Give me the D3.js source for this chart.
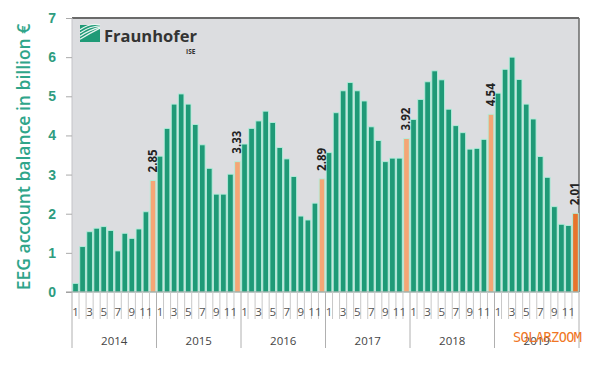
<!DOCTYPE html>
<html>
<head>
<meta charset="utf-8">
<script src="https://cdn.jsdelivr.net/npm/d3@7"></script>
<style>
body{margin:0;background:#fff;}
svg{display:block;font-family:"Open Sans","Noto Sans",sans-serif;}
</style>
</head>
<body>
<script>
var width=600,height=368;
var years=["2014","2015","2016","2017","2018","2019"];
var months=[1,2,3,4,5,6,7,8,9,10,11,12];
var yTicks=[0,1,2,3,4,5,6,7];
// monthly EEG account balance, billion EUR
var v2014=[0.22,1.16,1.54,1.63,1.67,1.57,1.05,1.50,1.37,1.61,2.05,2.85];
var v2015=[3.47,4.18,4.80,5.06,4.80,4.28,3.76,3.16,2.50,2.50,3.01,3.33];
var v2016=[3.78,4.18,4.37,4.62,4.33,3.69,3.40,2.95,1.94,1.84,2.27,2.89];
var v2017=[3.56,4.58,5.14,5.35,5.14,4.88,4.22,3.87,3.33,3.42,3.42,3.92];
var v2018=[4.41,4.92,5.37,5.65,5.42,4.67,4.25,4.07,3.65,3.67,3.90,4.54];
var v2019=[5.08,5.69,6.00,5.43,4.80,4.42,3.46,2.93,2.18,1.73,1.70,2.01];
var decLabels=["2.85","3.33","2.89","3.92","4.54","2.01"];

var allVals=[v2014,v2015,v2016,v2017,v2018,v2019];
var data=[];
years.forEach(function(y,i){
  months.forEach(function(m,j){
    data.push({key:y+"-"+m,year:y,month:m,value:allVals[i][j],last:(i==5&&j==11)});
  });
});

var pL=72,pR=579,pT=18,pB=292;
var svg=d3.select("body").append("svg").attr("width",width).attr("height",height);

var xScale=d3.scaleBand().domain(data.map(function(d){return d.key;})).range([pL,pR]).padding(0);
var yScale=d3.scaleLinear().domain([0,7]).range([pB,pT]);
var bw=xScale.bandwidth();

// plot background + frame
svg.append("rect").attr("x",pL).attr("y",pT).attr("width",pR-pL).attr("height",pB-pT).attr("fill","#dcdde0");
svg.append("line").attr("x1",pL).attr("x2",pR).attr("y1",pT).attr("y2",pT).attr("stroke","#6a6a6a").attr("stroke-width",2);
svg.append("line").attr("x1",pR).attr("x2",pR).attr("y1",pT).attr("y2",pB).attr("stroke","#6a6a6a").attr("stroke-width",1.5);
svg.append("line").attr("x1",pL).attr("x2",pL).attr("y1",pT).attr("y2",pB).attr("stroke","#c4c4c8").attr("stroke-width",1);

// y axis
var yAxis=d3.axisLeft(yScale).tickValues(yTicks).tickSize(6).tickPadding(10).tickFormat(d3.format("d"));
var gy=svg.append("g").attr("transform","translate("+pL+",0)").call(yAxis);
gy.select(".domain").remove();
gy.selectAll(".tick line").attr("stroke","#aaa");
gy.selectAll(".tick text").attr("fill","#2e9c80").attr("font-size",14).attr("font-weight","bold");

svg.append("text")
   .attr("transform","translate(30,"+((pT+pB)/2+2)+") rotate(-90)")
   .attr("text-anchor","middle")
   .attr("fill","#2fa58a")
   .attr("font-size",17.5)
   .attr("font-weight",600)
   .text("EEG account balance in billion €");

// bars
svg.append("g").selectAll("rect").data(data).enter().append("rect")
   .attr("x",function(d){return xScale(d.key)+0.7;})
   .attr("width",bw-1.4)
   .attr("y",function(d){return yScale(d.value);})
   .attr("height",function(d){return pB-yScale(d.value);})
   .attr("fill",function(d){
       if(d.last)return "#e8742c";
       if(d.month==12)return "#f4a676";
       return "#1f9a77";
   })
   .attr("stroke","#b2eedb")
   .attr("stroke-width",0.9);

// december labels
svg.append("g").selectAll("text").data(data.filter(function(d){return d.month==12;})).enter().append("text")
   .attr("transform",function(d){
       return "translate("+(xScale(d.key)+bw/2+4)+","+(yScale(d.value)-8)+") rotate(-90)";
   })
   .attr("font-size",11.5)
   .attr("font-weight","bold")
   .attr("fill","#222")
   .text(function(d,i){return decLabels[i];});

// x axis line
svg.append("line").attr("x1",pL-6).attr("x2",pR).attr("y1",pB).attr("y2",pB).attr("stroke","#999");

// month separators and labels
var gx=svg.append("g");
gx.selectAll("line.m").data(data).enter().append("line")
   .attr("class","m")
   .attr("x1",function(d){return xScale(d.key);})
   .attr("x2",function(d){return xScale(d.key);})
   .attr("y1",pB)
   .attr("y2",function(d){return d.month==1?348:319;})
   .attr("stroke",function(d){return d.month==1?"#b0b0b0":"#c8c8c8";})
   .attr("stroke-width",1);
gx.append("line").attr("x1",pR).attr("x2",pR).attr("y1",pB).attr("y2",348).attr("stroke","#b0b0b0");
gx.selectAll("text.m").data(data.filter(function(d){return d.month%2==1;})).enter().append("text")
   .attr("class","m")
   .attr("x",function(d){return xScale(d.key)+bw/2;})
   .attr("y",316)
   .attr("text-anchor","middle")
   .attr("font-size",11.5)
   .attr("fill","#555")
   .text(function(d){return d.month;});

// year labels
gx.selectAll("text.y").data(years).enter().append("text")
   .attr("class","y")
   .attr("x",function(y){return (xScale(y+"-1")+xScale(y+"-12")+bw)/2;})
   .attr("y",345)
   .attr("text-anchor","middle")
   .attr("font-size",11.5)
   .attr("fill","#444")
   .text(function(y){return y;});

// Fraunhofer logo
var logo=svg.append("g").attr("transform","translate(80,25)");
logo.append("rect").attr("width",20).attr("height",17).attr("fill","#1f9a77");
[3,6.5,10,13.5].forEach(function(o){
  logo.append("path")
      .attr("d","M0,"+(17-o*0.9)+" Q10,"+(11-o)+" 20,"+(4-o*0.3))
      .attr("fill","none").attr("stroke","#e8f5f0").attr("stroke-width",1.2);
});
svg.append("text").attr("x",104).attr("y",42).attr("font-size",16.5).attr("font-weight","bold").attr("fill","#333")
   .text("Fraunhofer");
svg.append("text").attr("x",186).attr("y",54).attr("font-size",6.5).attr("font-weight","bold").attr("fill","#333").text("ISE");

// watermark
svg.append("text").attr("x",513).attr("y",342).attr("font-size",13.5)
   .attr("font-family","'DejaVu Sans Mono',monospace").attr("fill","#f07624")
   .attr("textLength",69).text("SOLARZOOM");
</script>
</body>
</html>
